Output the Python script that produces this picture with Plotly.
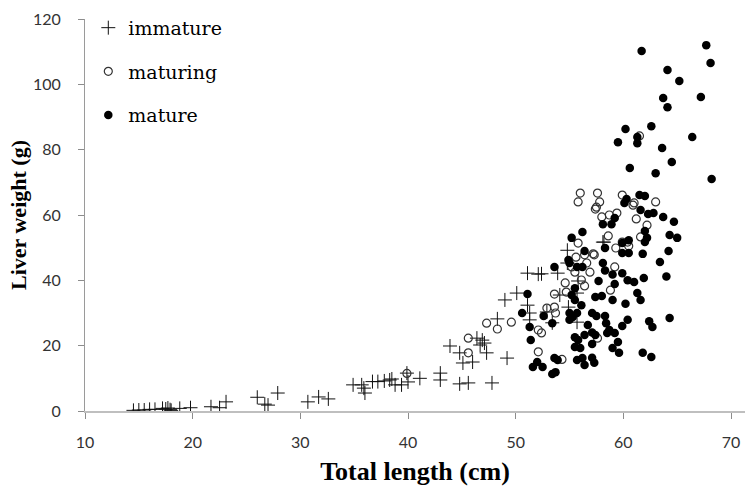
import plotly.graph_objects as go

# Total length (cm) and liver weight (g) by maturity stage
immature_len = [14.5, 15.0, 15.5, 16.0, 16.5, 17.2, 17.5, 17.7, 17.9, 18.0, 18.8, 19.8,
                21.7, 22.5, 23.1, 26.0, 26.7, 27.0, 27.9, 30.7, 31.7, 32.6, 34.9, 35.7,
                35.9, 36.0, 36.7, 37.2, 37.8, 38.3, 38.5, 38.8, 39.4, 40.0, 39.9, 41.1,
                43.0, 43.0, 44.8, 45.6, 47.8, 43.9, 44.8, 45.1, 46.0, 46.7, 47.1, 47.3,
                46.9, 49.2, 51.1, 52.1, 52.4, 53.9, 50.1, 49.0, 51.1, 51.3, 51.3, 48.3,
                54.1, 54.9, 55.7, 55.8, 55.7, 53.4, 52.9, 54.8, 58.2, 54.8, 46.4, 58.1]
immature_wt = [0.2, 0.3, 0.3, 0.5, 0.5, 0.8, 0.6, 0.9, 0.4, 0.2, 0.8, 1.0,
               1.3, 1.0, 2.8, 4.2, 2.1, 1.8, 5.5, 2.8, 4.3, 3.7, 8.0, 8.0,
               7.0, 5.5, 9.0, 9.0, 9.2, 9.5, 9.8, 8.0, 8.0, 8.9, 11.6, 10.0,
               11.6, 9.5, 8.3, 8.6, 8.6, 19.9, 17.8, 14.7, 15.0, 20.2, 20.8, 17.8,
               21.7, 16.2, 42.2, 41.9, 42.0, 42.2, 36.1, 34.0, 32.4, 30.0, 27.9, 28.2,
               35.5, 31.8, 36.1, 39.8, 27.2, 27.0, 30.3, 49.2, 51.7, 45.3, 22.3, 51.7]

maturing_len = [39.9, 45.6, 45.6, 47.3, 48.3, 49.6, 52.1, 52.4, 52.1, 52.9, 53.6, 53.7,
                53.6, 54.6, 54.7, 55.5, 56.1, 56.4, 54.3, 56.9, 57.6, 58.8, 59.2, 56.0,
                55.8, 57.6, 57.5, 57.8, 55.8, 55.6, 56.4, 56.6, 55.2, 57.3, 57.4, 59.9,
                61.0, 60.9, 63.0, 58.7, 59.4, 58.0, 61.2, 62.2, 58.6, 61.6, 59.9, 60.4,
                59.3, 60.5, 57.2, 61.5]
maturing_wt = [11.5, 17.8, 22.3, 26.9, 25.1, 27.2, 24.8, 23.9, 18.1, 31.5, 31.8, 30.0,
               35.8, 39.2, 36.4, 42.5, 40.1, 38.3, 15.8, 42.5, 22.3, 37.0, 44.1, 66.7,
               64.0, 66.7, 62.4, 64.0, 51.4, 47.1, 47.8, 45.3, 44.1, 47.8, 61.8, 66.1,
               63.7, 63.0, 64.0, 60.0, 60.6, 59.4, 58.8, 56.9, 53.6, 53.3, 51.7, 51.7,
               49.9, 50.5, 48.1, 84.2]

mature_len = [61.7, 67.7, 68.1, 64.1, 65.2, 63.7, 64.1, 67.2, 60.2, 62.6, 59.5, 61.3,
              61.3, 63.6, 66.4, 64.5, 60.6, 63.0, 68.2, 61.5, 62.0, 60.1, 60.3, 61.6,
              62.3, 62.8, 63.7, 64.7, 62.0, 62.2, 62.0, 64.3, 65.0, 64.2, 63.4, 64.0,
              61.8, 58.9, 58.1, 59.2, 59.9, 60.5, 59.9, 60.5, 58.3, 58.1, 58.3, 59.0,
              59.9, 59.2, 60.4, 61.0, 61.9, 56.2, 55.2, 56.4, 54.9, 55.0, 53.6, 55.7,
              56.2, 51.1, 50.6, 51.3, 52.6, 53.4, 51.4, 52.0, 51.6, 52.5, 53.6, 53.9,
              53.7, 53.4, 55.5, 55.2, 55.0, 55.3, 55.7, 55.0, 55.5, 55.8, 55.5, 56.0,
              56.4, 57.1, 56.7, 57.1, 57.4, 55.7, 56.2, 56.4, 57.7, 57.4, 57.1, 57.3,
              58.0, 59.0, 60.2, 61.3, 61.6, 57.1, 57.5, 58.3, 58.4, 60.4, 59.9, 62.4,
              62.7, 64.3, 58.7, 59.2, 58.5, 59.5, 59.0, 59.6, 61.8, 62.6, 55.5, 56.1]
mature_wt = [110.2, 112.0, 106.5, 104.4, 101.0, 95.8, 93.0, 96.1, 86.3, 87.2, 82.3, 83.9,
             82.0, 80.5, 83.9, 76.2, 74.4, 72.8, 71.0, 66.1, 65.8, 63.7, 64.9, 61.5,
             60.3, 60.6, 59.4, 57.9, 55.1, 53.0, 51.7, 53.9, 53.0, 49.0, 45.6, 41.2,
             48.1, 57.2, 57.2, 59.1, 51.4, 52.3, 48.4, 48.4, 49.9, 45.3, 43.0, 41.8,
             42.2, 38.9, 40.0, 39.5, 40.7, 54.8, 53.0, 49.0, 46.2, 45.3, 44.1, 44.1,
             44.1, 35.8, 30.0, 25.7, 29.1, 26.9, 21.7, 15.0, 13.5, 13.5, 16.2, 15.6,
             11.9, 11.3, 34.0, 35.5, 30.0, 28.8, 30.0, 27.9, 22.6, 21.7, 19.6, 19.3,
             23.3, 20.5, 26.3, 24.0, 23.3, 15.6, 16.2, 14.1, 39.8, 34.9, 16.3, 14.8,
             35.2, 34.0, 32.8, 36.1, 34.0, 30.0, 29.1, 29.1, 26.9, 27.9, 26.0, 27.5,
             25.7, 28.5, 24.8, 23.9, 23.9, 21.1, 19.3, 17.8, 17.8, 16.5, 37.6, 32.4]

x_ticks = [10, 20, 30, 40, 50, 60, 70]
y_ticks = [0, 20, 40, 60, 80, 100, 120]

fig = go.Figure()

fig.add_trace(go.Scatter(
    x=immature_len, y=immature_wt, mode="markers", name="immature",
    legendgroup="a",
    marker=dict(symbol="cross-thin", size=10, line=dict(color="#111111", width=1)),
))
fig.add_trace(go.Scatter(
    x=maturing_len, y=maturing_wt, mode="markers", name="maturing",
    legendgroup="b",
    marker=dict(symbol="circle-open", size=8, color="#333333", line=dict(width=1.2)),
))
fig.add_trace(go.Scatter(
    x=mature_len, y=mature_wt, mode="markers", name="mature",
    legendgroup="c",
    marker=dict(symbol="circle", size=8.5, color="#000000"),
))

tick_font = dict(family="Lato, Open Sans, sans-serif", size=16, color="#333333")
serif = "Liberation Serif, Times New Roman, serif"

fig.update_layout(
    width=745, height=493,
    margin=dict(l=85, r=0, t=19, b=82),
    paper_bgcolor="white", plot_bgcolor="white",
    showlegend=True,
    legend=dict(
        x=0.005, y=1.026, xanchor="left", yanchor="top",
        font=dict(family="DejaVu Serif, serif", size=19, color="#000000"),
        bgcolor="rgba(0,0,0,0)", itemwidth=30, tracegroupgap=16,
        itemclick=False, itemdoubleclick=False,
    ),
    xaxis=dict(
        range=[10, 71.3], tickvals=x_ticks, ticktext=[str(v) for v in x_ticks],
        showgrid=False, zeroline=False,
        showline=True, linecolor="#bfbfbf", linewidth=2,
        ticks="outside", ticklen=6, tickcolor="#8c8c8c", tickwidth=1,
        tickfont=tick_font, ticklabelstandoff=10,
        title=dict(text="<b>Total length (cm)</b>",
                   font=dict(family=serif, size=26, color="#000000"), standoff=12),
    ),
    yaxis=dict(
        range=[0, 120], tickvals=y_ticks, ticktext=[str(v) for v in y_ticks],
        showgrid=False, zeroline=False,
        showline=True, linecolor="#9a9a9a", linewidth=1,
        ticks="outside", ticklen=6, tickcolor="#8c8c8c", tickwidth=1,
        tickfont=tick_font, ticklabelstandoff=14,
        title=dict(text="<b>Liver weight (g)</b>",
                   font=dict(family=serif, size=22, color="#000000"), standoff=0),
    ),
)

fig.write_html("out.html")
